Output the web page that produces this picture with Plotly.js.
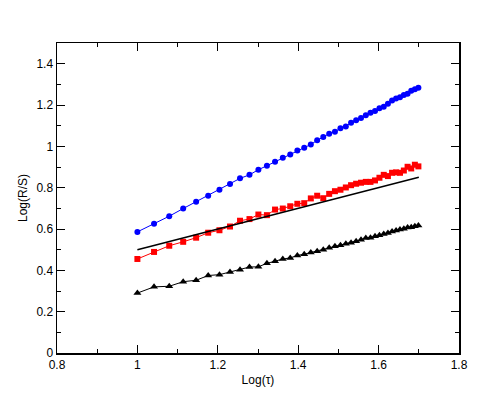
<!DOCTYPE html>
<html>
<head>
<meta charset="utf-8">
<script src="https://cdn.plot.ly/plotly-3.0.1.min.js"></script>
<style>html,body{margin:0;padding:0;background:#fff;}</style>
</head>
<body>
<div id="chart" style="width:489px;height:399px;"></div>
<script>
const logTau = [1.0000, 1.0414, 1.0792, 1.1139, 1.1461, 1.1761, 1.2041, 1.2304, 1.2553, 1.2788,
  1.3010, 1.3222, 1.3424, 1.3617, 1.3802, 1.3979, 1.4150, 1.4314, 1.4472, 1.4624,
  1.4771, 1.4914, 1.5051, 1.5185, 1.5315, 1.5441, 1.5563, 1.5682, 1.5798, 1.5911,
  1.6021, 1.6128, 1.6232, 1.6335, 1.6435, 1.6532, 1.6628, 1.6721, 1.6812, 1.6902, 1.6990];

const blueRS = [0.586, 0.625, 0.662, 0.699, 0.732, 0.761, 0.790, 0.818, 0.845, 0.862,
  0.887, 0.906, 0.925, 0.945, 0.961, 0.980, 0.993, 1.009, 1.029, 1.045,
  1.061, 1.071, 1.087, 1.096, 1.114, 1.126, 1.137, 1.151, 1.163, 1.171,
  1.184, 1.192, 1.206, 1.222, 1.232, 1.237, 1.248, 1.255, 1.269, 1.276, 1.284];

const redRS = [0.455, 0.489, 0.519, 0.538, 0.558, 0.582, 0.594, 0.612, 0.640, 0.648,
  0.670, 0.667, 0.694, 0.699, 0.710, 0.722, 0.725, 0.748, 0.761, 0.749,
  0.770, 0.783, 0.790, 0.801, 0.812, 0.819, 0.824, 0.828, 0.828, 0.835,
  0.848, 0.862, 0.856, 0.872, 0.874, 0.872, 0.883, 0.901, 0.893, 0.911, 0.903];

const blackRS = [0.290, 0.320, 0.323, 0.345, 0.352, 0.375, 0.379, 0.392, 0.403, 0.416,
  0.417, 0.434, 0.444, 0.455, 0.460, 0.472, 0.478, 0.486, 0.492, 0.500,
  0.509, 0.516, 0.521, 0.529, 0.533, 0.541, 0.548, 0.556, 0.558, 0.565,
  0.570, 0.576, 0.581, 0.588, 0.593, 0.597, 0.601, 0.607, 0.609, 0.613, 0.617];

const refX = [1.0, 1.7];
const refY = [0.5, 0.85];

const traces = [
  {x: logTau, y: blueRS, mode: 'lines+markers', line: {color: '#0000ff', width: 1},
   marker: {symbol: 'circle', size: 6, color: '#0000ff'}},
  {x: logTau, y: redRS, mode: 'lines+markers', line: {color: '#ff0000', width: 1},
   marker: {symbol: 'square', size: 6, color: '#ff0000'}},
  {x: logTau, y: blackRS, mode: 'lines+markers', line: {color: '#000000', width: 1},
   marker: {symbol: 'triangle-up', size: 7, color: '#000000'}},
  {x: refX, y: refY, mode: 'lines', line: {color: '#000000', width: 1.5}}
];

const axisCommon = {
  showgrid: false, zeroline: false, showline: true, linecolor: '#000', linewidth: 1.5,
  mirror: 'allticks', ticks: 'inside', ticklen: 8, tickwidth: 1, tickcolor: '#000',
  minor: {ticks: 'inside', ticklen: 4, tickwidth: 1, tickcolor: '#000', dtick: 0.1, showgrid: false},
  tickfont: {family: 'Liberation Sans, Arial, sans-serif', size: 12, color: '#000'}
};

const layout = {
  width: 489, height: 399,
  margin: {l: 57, r: 30, t: 43, b: 46},
  showlegend: false,
  paper_bgcolor: '#fff', plot_bgcolor: '#fff',
  xaxis: Object.assign({}, axisCommon, {
    range: [0.8, 1.8], dtick: 0.2, tick0: 0.8,
    title: {text: 'Log(τ)', standoff: 4, font: {family: 'Liberation Sans, Arial, sans-serif', size: 12, color: '#000'}}
  }),
  yaxis: Object.assign({}, axisCommon, {
    range: [0, 1.5], dtick: 0.2, tick0: 0,
    title: {text: 'Log(R/S)', standoff: 6, font: {family: 'Liberation Sans, Arial, sans-serif', size: 12, color: '#000'}}
  })
};

Plotly.newPlot('chart', traces, layout, {displayModeBar: false, staticPlot: true});
</script>
</body>
</html>
